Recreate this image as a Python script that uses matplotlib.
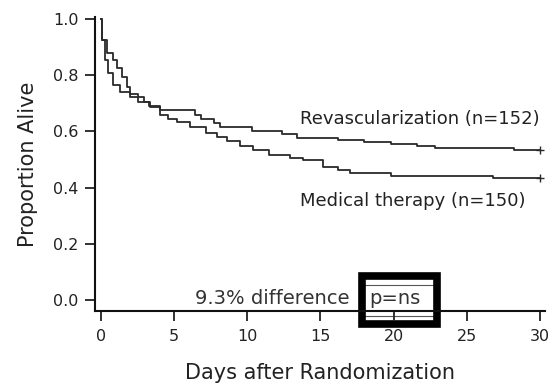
import matplotlib
matplotlib.use("Agg")
import matplotlib.pyplot as plt
from matplotlib.patches import Rectangle

plt.rcParams['font.family'] = ['DejaVu Sans']

# Kaplan-Meier steps (days, proportion alive)
revasc_days = [0, 0.05, 0.27, 0.5, 0.84, 1.3, 2.0, 2.9, 3.3, 4.0, 6.4, 6.8, 7.7,
               8.1, 10.3, 12.4, 13.4, 16.2, 18.0, 19.8, 21.6, 22.8, 28.2, 30]
revasc_surv = [1.0, 0.925, 0.854, 0.807, 0.765, 0.741, 0.723, 0.705, 0.69, 0.676,
               0.66, 0.645, 0.63, 0.617, 0.60, 0.59, 0.578, 0.569, 0.563, 0.555,
               0.549, 0.54, 0.534, 0.534]

medical_days = [0, 0.05, 0.4, 0.8, 1.07, 1.4, 1.75, 2.0, 2.5, 3.35, 4.0, 4.6, 5.2,
                6.1, 7.2, 7.9, 8.6, 9.5, 10.4, 11.5, 12.9, 13.8, 15.2, 16.2, 17.0,
                19.8, 26.8, 30]
medical_surv = [1.0, 0.925, 0.88, 0.854, 0.825, 0.795, 0.759, 0.735, 0.706, 0.688,
                0.658, 0.645, 0.635, 0.617, 0.594, 0.581, 0.566, 0.55, 0.534, 0.516,
                0.507, 0.498, 0.474, 0.462, 0.452, 0.441, 0.433, 0.433]

x_ticks = [0, 5, 10, 15, 20, 25, 30]
y_ticks = [0.0, 0.2, 0.4, 0.6, 0.8, 1.0]

fig = plt.figure(figsize=(5.53, 3.87), dpi=100)
ax = fig.add_axes([0.172, 0.196, 0.8135, 0.76])

ax.step(revasc_days, revasc_surv, where='post', color='#2a2a2a', lw=1.3)
ax.step(medical_days, medical_surv, where='post', color='#2a2a2a', lw=1.3)
ax.plot([revasc_days[-1], medical_days[-1]], [revasc_surv[-1], medical_surv[-1]],
        '+', color='#2a2a2a', ms=6, mew=1.0)

ax.set_xlim(-0.41, 30.35)
ax.set_ylim(-0.039, 1.007)
ax.set_xticks(x_ticks)
ax.set_yticks(y_ticks)
ax.set_yticklabels([f'{v:.1f}' for v in y_ticks])
ax.tick_params(labelsize=11.5, length=7, width=1.3, colors='#222222')
ax.tick_params(axis='x', pad=5.5)
ax.tick_params(axis='y', pad=5)
for s in ['top', 'right']:
    ax.spines[s].set_visible(False)
for s in ['left', 'bottom']:
    ax.spines[s].set_linewidth(1.5)
    ax.spines[s].set_color('#111111')

ax.set_ylabel('Proportion Alive', fontsize=15, labelpad=11, color='#222222')
ax.set_xlabel('Days after Randomization', fontsize=15, labelpad=14, color='#222222')

ax.text(13.6, 0.645, 'Revascularization (n=152)', fontsize=13, va='center', ha='left',
        color='#222222')
ax.text(13.6, 0.352, 'Medical therapy (n=150)', fontsize=13, va='center', ha='left',
        color='#222222')

ax.text(6.4, 0.005, '9.3% difference', fontsize=14, va='center', ha='left', color='#333333')
ax.text(18.3, 0.005, 'p=ns', fontsize=14, va='center', ha='left', color='#333333')

# thin box round p=ns and thick highlight frame
ax.add_patch(Rectangle((18.0, -0.055), 5.0, 0.11, fill=False, lw=0.8,
                       ec='#555555', clip_on=False))
ax.add_patch(Rectangle((17.85, -0.085), 5.15, 0.172, fill=False, lw=5.5,
                       ec='black', clip_on=False, joinstyle='miter'))

fig.savefig('out.png', dpi=100)
